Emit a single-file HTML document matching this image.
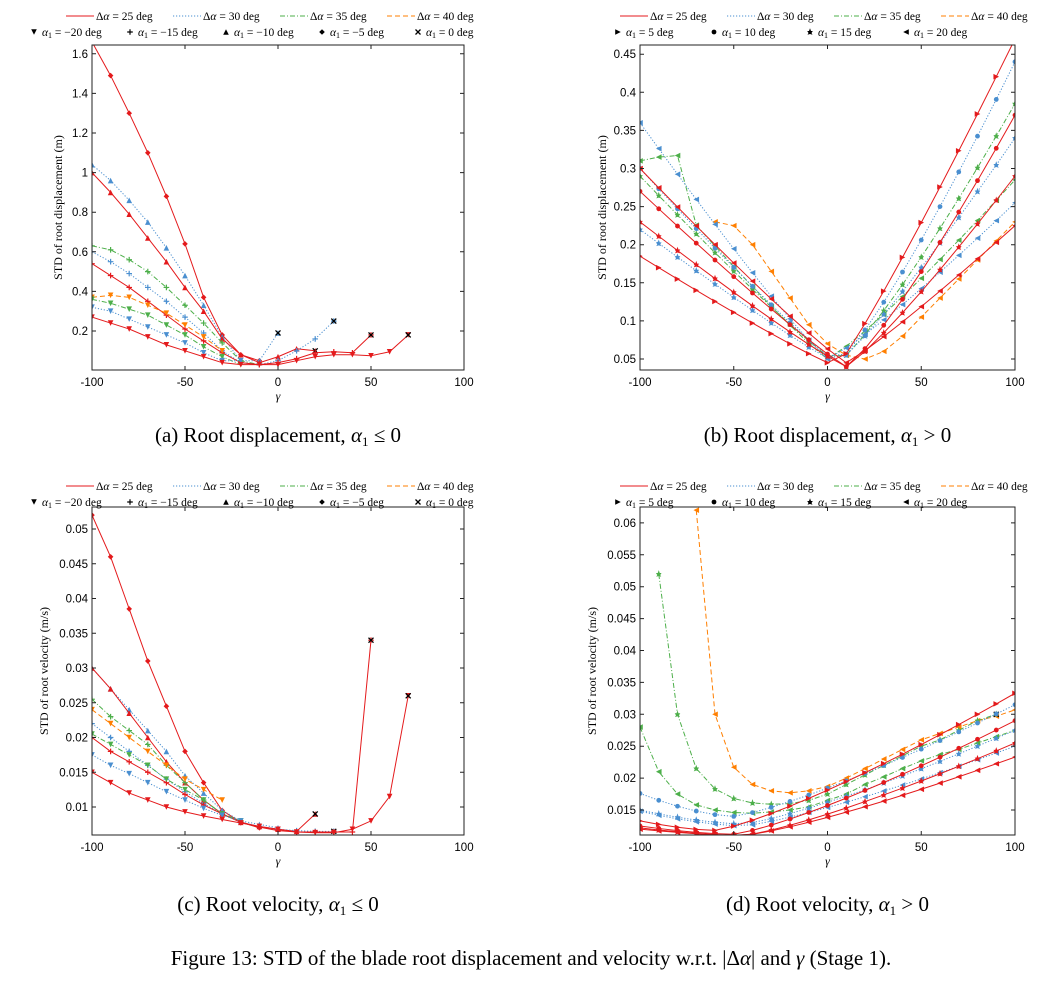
<!DOCTYPE html><html><head><meta charset="utf-8"><style>body{margin:0;background:#fff}svg{display:block}</style></head><body>
<svg id="s" width="1063" height="1008" xmlns="http://www.w3.org/2000/svg" font-family="Liberation Serif, serif"></svg>
<script>
const S=document.getElementById('s');let h='';
const C={r:'#e41a1c',b:'#4a8fd0',g:'#4daf4a',o:'#ff7f00',k:'#000'};
const D={r:'',b:'1.2,1.8',g:'5,2,1,2',o:'5,3'};
function mk(t,x,y,c){const s=2.8;switch(t){
case 'v':return `<polygon points="${x-s},${y-s} ${x+s},${y-s} ${x},${y+s}" fill="${c}"/>`;
case '^':return `<polygon points="${x-s},${y+s} ${x+s},${y+s} ${x},${y-s}" fill="${c}"/>`;
case '<':return `<polygon points="${x+s},${y-s} ${x+s},${y+s} ${x-s},${y}" fill="${c}"/>`;
case '>':return `<polygon points="${x-s},${y-s} ${x-s},${y+s} ${x+s},${y}" fill="${c}"/>`;
case 'd':return `<polygon points="${x},${y-s} ${x+s},${y} ${x},${y+s} ${x-s},${y}" fill="${c}"/>`;
case 'o':return `<circle cx="${x}" cy="${y}" r="${s-0.4}" fill="${c}"/>`;
case '+':return `<path d="M${x-s} ${y}H${x+s}M${x} ${y-s}V${y+s}" stroke="${c}" stroke-width="1.2"/>`;
case '*':return `<polygon points="${x},${y-s-1} ${x+1},${y-1} ${x+s},${y-1} ${x+1.5},${y+1} ${x+2.5},${y+s} ${x},${y+2} ${x-2.5},${y+s} ${x-1.5},${y+1} ${x-s},${y-1} ${x-1},${y-1}" fill="${c}"/>`;
case 'x':return `<path d="M${x-2.5} ${y-2.5}L${x+2.5} ${y+2.5}M${x+2.5} ${y-2.5}L${x-2.5} ${y+2.5}" stroke="#000" stroke-width="1.3"/>`;}}
function panel(P){const {x0,x1,y0,y1,xm,xM,ym,yM}=P;
 const X=g=>x0+(g-xm)/(xM-xm)*(x1-x0),Y=v=>y1-(v-ym)/(yM-ym)*(y1-y0);
 h+=`<svg x="0" y="0" overflow="visible"><defs><clipPath id="c${P.id}"><rect x="${x0}" y="${y0}" width="${x1-x0}" height="${y1-y0}"/></clipPath></defs></svg>`;
 let g2='';
 for(const s of P.series){const pts=s.v.map((v,i)=>[X(s.s+10*i),Y(v)]);
  g2+=`<polyline points="${pts.map(p=>p.join(',')).join(' ')}" fill="none" stroke="${C[s.c]}" stroke-width="1" stroke-dasharray="${D[s.c]}"/>`;
  pts.forEach((p,i)=>{g2+=mk(s.m,p[0],p[1],C[s.c]);}); if(s.e){const p=pts[pts.length-1];g2+=mk('x',p[0],p[1]);}}
 h+=`<g clip-path="url(#c${P.id})">${g2}</g>`;
 h+=`<rect x="${x0}" y="${y0}" width="${x1-x0}" height="${y1-y0}" fill="none" stroke="#222" stroke-width="1"/>`;
 for(const t of P.xt){const x=X(t);h+=`<path d="M${x} ${y1}v-4M${x} ${y0}v4" stroke="#222"/><text x="${x}" y="${y1+16}" text-anchor="middle" font-family="Liberation Sans,sans-serif" font-size="11.5">${t}</text>`;}
 for(const t of P.yt){const y=Y(t);h+=`<path d="M${x0} ${y}h4M${x1} ${y}h-4" stroke="#222"/><text x="${x0-4}" y="${y+4}" text-anchor="end" font-family="Liberation Sans,sans-serif" font-size="11.5">${t}</text>`;}
 h+=`<text x="${(x0+x1)/2}" y="${y1+30}" text-anchor="middle" font-size="12" font-style="italic">γ</text>`;
 const yc=(y0+y1)/2;h+=`<text transform="translate(${P.yl},${yc}) rotate(-90)" text-anchor="middle" font-size="12">${P.ylab}</text>`;
 const lx=P.lx,ly=P.ly;
 const L=[['r','25'],['b','30'],['g','35'],['o','40']];
 L.forEach((l,i)=>{const x=lx+i*107;h+=`<line x1="${x}" y1="${ly-4}" x2="${x+28}" y2="${ly-4}" stroke="${C[l[0]]}" stroke-dasharray="${D[l[0]]}"/><text x="${x+30}" y="${ly}" font-size="11.5">Δ<tspan font-style="italic">α</tspan> = ${l[1]} deg</text>`;});
 P.l2.forEach((l,i)=>{const x=P.l2x+i*P.l2d;h+=mk(l[0],x,ly+12,'#000')+`<text x="${x+8}" y="${ly+16}" font-size="11.5"><tspan font-style="italic">α</tspan><tspan font-size="8" dy="2">1</tspan><tspan dy="-2"> = ${l[1]} deg</tspan></text>`;});
 h+=`<text x="${(x0+x1)/2}" y="${P.cy}" text-anchor="middle" font-size="21">${P.cap}</text>`;}
function gen(L,gm,vm,R,p,s=-100,e=100){const a=[];for(let g=s;g<=e;g+=10){let v=g<gm?vm+(L-vm)*Math.pow((gm-g)/(gm+100),1.1):vm+(R-vm)*Math.pow((g-gm)/(100-gm),p);a.push(v);}return a;}
const la=[['v','−20'],['+','−15'],['^','−10'],['d','−5'],['x','0']];
const lb=[['>','5'],['o','10'],['*','15'],['<','20']];
panel({id:1,x0:92,x1:464,y0:45,y1:370,xm:-100,xM:100,ym:0.003,yM:0.003+325/198,xt:[-100,-50,0,50,100],yt:[0.2,0.4,0.6,0.8,1,1.2,1.4,1.6],yl:62,ylab:'STD of root displacement (m)',lx:66,ly:20,l2:la,l2x:34,l2d:96,cy:442,cap:'(a) Root displacement, <tspan font-style="italic">α</tspan><tspan font-size="13" dy="4">1</tspan><tspan dy="-4"> ≤ 0</tspan>',
series:[
{c:'r',m:'d',s:-100,v:[1.66,1.49,1.30,1.10,0.88,0.64,0.37,0.18,0.08,0.05]},
{c:'b',m:'^',s:-100,v:[1.04,0.96,0.86,0.75,0.62,0.48,0.33,0.17,0.05,0.05,0.19],e:1},
{c:'r',m:'^',s:-100,v:[1.0,0.9,0.79,0.67,0.55,0.42,0.30,0.16,0.08,0.04,0.07,0.11,0.10],e:1},
{c:'g',m:'+',s:-100,v:[0.63,0.61,0.56,0.50,0.42,0.33,0.24,0.14,0.05,0.03]},
{c:'b',m:'+',s:-100,v:[0.6,0.55,0.49,0.42,0.35,0.27,0.19,0.10,0.04,0.03,0.05,0.10,0.16,0.25],e:1},
{c:'r',m:'+',s:-100,v:[0.54,0.48,0.42,0.35,0.28,0.21,0.15,0.09,0.04,0.03,0.04,0.06,0.09,0.095,0.09,0.18],e:1},
{c:'o',m:'v',s:-100,v:[0.37,0.38,0.37,0.33,0.29,0.23,0.17,0.10]},
{c:'g',m:'v',s:-100,v:[0.36,0.34,0.31,0.28,0.23,0.18,0.12,0.07,0.03]},
{c:'b',m:'v',s:-100,v:[0.32,0.30,0.26,0.22,0.18,0.14,0.09,0.05,0.05]},
{c:'r',m:'v',s:-100,v:[0.27,0.24,0.21,0.17,0.13,0.10,0.07,0.04,0.03,0.03,0.03,0.05,0.07,0.08,0.08,0.075,0.095,0.18],e:1}]});
panel({id:2,x0:640,x1:1015,y0:45,y1:370,xm:-100,xM:100,ym:0.05-11/762,yM:0.05+314/762,xt:[-100,-50,0,50,100],yt:[0.05,0.1,0.15,0.2,0.25,0.3,0.35,0.4,0.45],yl:606,ylab:'STD of root displacement (m)',lx:620,ly:20,l2:lb,l2x:618,l2d:96,cy:442,cap:'(b) Root displacement, <tspan font-style="italic">α</tspan><tspan font-size="13" dy="4">1</tspan><tspan dy="-4"> &gt; 0</tspan>',
series:[
{c:'o',m:'<',s:-60,v:[0.23,0.225,0.2,0.165,0.13,0.095,0.07,0.055,0.05,0.06,0.08,0.105,0.13,0.155,0.18,0.205,0.23,0.255,0.275,0.29,0.30]},
{c:'g',m:'<',s:-100,v:gen(0.31,0,0.05,0.285,1.15).map((v,i)=>i<3?[0.31,0.315,0.317][i]:v)},
{c:'g',m:'*',s:-100,v:gen(0.29,5,0.045,0.385,1.2)},
{c:'b',m:'<',s:-100,v:gen(0.36,0,0.05,0.255,1.15)},
{c:'b',m:'o',s:-100,v:gen(0.30,5,0.045,0.44,1.2)},
{c:'b',m:'*',s:-100,v:gen(0.22,5,0.045,0.34,1.15)},
{c:'r',m:'>',s:-100,v:gen(0.185,5,0.04,0.47,1.1)},
{c:'r',m:'o',s:-100,v:gen(0.27,10,0.04,0.37,1.2)},
{c:'r',m:'*',s:-100,v:gen(0.23,10,0.04,0.29,1.15)},
{c:'r',m:'<',s:-100,v:gen(0.30,10,0.045,0.225,1.1)}]});
panel({id:3,x0:92,x1:464,y0:507,y1:835,xm:-100,xM:100,ym:0.01-28/6950,yM:0.01+300/6950,xt:[-100,-50,0,50,100],yt:[0.01,0.015,0.02,0.025,0.03,0.035,0.04,0.045,0.05],yl:48,ylab:'STD of root velocity (m/s)',lx:66,ly:490,l2:la,l2x:34,l2d:96,cy:911,cap:'(c) Root velocity, <tspan font-style="italic">α</tspan><tspan font-size="13" dy="4">1</tspan><tspan dy="-4"> ≤ 0</tspan>',
series:[
{c:'r',m:'d',s:-100,v:[0.052,0.046,0.0385,0.031,0.0245,0.018,0.0135,0.0095,0.0078,0.007]},
{c:'b',m:'^',s:-100,v:[0.030,0.027,0.024,0.021,0.018,0.0145,0.012,0.0095,0.008,0.0075,0.0070]},
{c:'r',m:'^',s:-100,v:[0.030,0.027,0.0235,0.020,0.0165,0.0135,0.011,0.009,0.0078,0.0072,0.0068,0.0065,0.009],e:1},
{c:'g',m:'+',s:-100,v:[0.0255,0.023,0.021,0.019,0.016,0.0135,0.011,0.009,0.008]},
{c:'b',m:'+',s:-100,v:[0.022,0.020,0.018,0.016,0.014,0.0122,0.0105,0.009,0.0078,0.0072,0.0068,0.0066,0.0065,0.0065],e:1},
{c:'r',m:'+',s:-100,v:[0.020,0.018,0.0165,0.015,0.0135,0.0118,0.0103,0.009,0.0078,0.0071,0.0066,0.0064,0.0064,0.0064,0.0064,0.034],e:1},
{c:'o',m:'v',s:-100,v:[0.024,0.022,0.020,0.018,0.016,0.014,0.0125,0.011]},
{c:'g',m:'v',s:-100,v:[0.0205,0.019,0.0175,0.016,0.014,0.0125,0.011,0.009,0.008]},
{c:'b',m:'v',s:-100,v:[0.0175,0.016,0.0148,0.0135,0.0122,0.011,0.0098,0.0088,0.008]},
{c:'r',m:'v',s:-100,v:[0.015,0.0135,0.012,0.011,0.010,0.0093,0.0087,0.0082,0.0077,0.0072,0.0068,0.0064,0.0063,0.0063,0.0068,0.008,0.0115,0.026],e:1}]});
function gd(L,vm,R,gm=-50){const a=[];for(let g=-100;g<=100;g+=10){a.push(g<gm?vm+(L-vm)*Math.pow((gm-g)/(gm+100),1.6):vm+(R-vm)*Math.pow((g-gm)/(100-gm),1.25));}return a;}
panel({id:4,x0:640,x1:1015,y0:507,y1:835,xm:-100,xM:100,ym:0.015-25/6380,yM:0.015+303/6380,xt:[-100,-50,0,50,100],yt:[0.015,0.02,0.025,0.03,0.035,0.04,0.045,0.05,0.055,0.06],yl:596,ylab:'STD of root velocity (m/s)',lx:620,ly:490,l2:lb,l2x:618,l2d:96,cy:911,cap:'(d) Root velocity, <tspan font-style="italic">α</tspan><tspan font-size="13" dy="4">1</tspan><tspan dy="-4"> &gt; 0</tspan>',
series:[
{c:'o',m:'<',s:-70,v:[0.062,0.030,0.0217,0.019,0.018,0.0177,0.018,0.0187,0.020,0.0215,0.023,0.0245,0.026,0.027,0.028,0.029,0.0297,0.0307]},
{c:'g',m:'*',s:-90,v:[0.052,0.030,0.0215,0.0183,0.0168,0.0161,0.0159,0.016,0.0165,0.0175,0.019,0.0205,0.022,0.0235,0.025,0.026,0.0275,0.029,0.030],e:1},
{c:'g',m:'<',s:-100,v:[0.028,0.021,0.0175,0.0158,0.015,0.0146,0.0145,0.0147,0.015,0.0155,0.0165,0.0175,0.019,0.0202,0.0215,0.0227,0.0237,0.0245,0.0255,0.0265,0.0275]},
{c:'b',m:'o',s:-100,v:gd(0.0176,0.014,0.0315,-50)},
{c:'b',m:'*',s:-100,v:gd(0.015,0.0128,0.0275,-45)},
{c:'b',m:'<',s:-100,v:gd(0.0148,0.0125,0.025,-45)},
{c:'r',m:'>',s:-100,v:gd(0.0133,0.0118,0.0333,-60)},
{c:'r',m:'o',s:-100,v:gd(0.0125,0.0112,0.029,-50)},
{c:'r',m:'*',s:-100,v:gd(0.0122,0.011,0.0255,-45)},
{c:'r',m:'<',s:-100,v:gd(0.012,0.011,0.0233,-45)}]});
h+=`<text x="531" y="965" text-anchor="middle" font-size="21">Figure 13: STD of the blade root displacement and velocity w.r.t. |Δ<tspan font-style="italic">α</tspan>| and <tspan font-style="italic">γ</tspan> (Stage 1).</text>`;
S.innerHTML=h;
</script></body></html>
